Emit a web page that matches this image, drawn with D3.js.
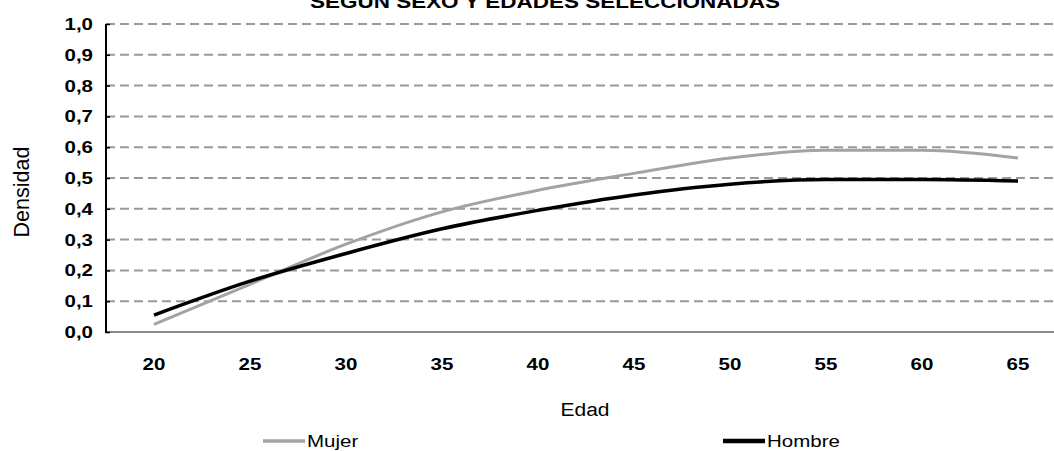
<!DOCTYPE html>
<html>
<head>
<meta charset="utf-8">
<script src="https://cdn.jsdelivr.net/npm/d3@7"></script>
<style>
  html, body { margin: 0; padding: 0; background: #fff; }
  svg { display: block; font-family: "Liberation Sans", Arial, sans-serif; }
</style>
</head>
<body>
<svg id="chart" width="1054" height="451"></svg>
<script>
// Densidad por edad, según sexo
const ages = [20, 25, 30, 35, 40, 45, 50, 55, 60, 65];
const mujer = [0.025, 0.155, 0.285, 0.39, 0.46, 0.515, 0.565, 0.59, 0.59, 0.565];
const hombre = [0.055, 0.165, 0.255, 0.335, 0.395, 0.445, 0.48, 0.495, 0.495, 0.49];
const yTicks = [0, 0.1, 0.2, 0.3, 0.4, 0.5, 0.6, 0.7, 0.8, 0.9, 1.0];
const seriesNames = ["Mujer", "Hombre"];
const seriesColors = ["#a3a3a3", "#000000"];
const titleText = "SEGÚN SEXO Y EDADES SELECCIONADAS";
const xTitle = "Edad";
const yTitle = "Densidad";

const W = 1054, H = 451;
const plot = { left: 106, right: 1066, top: 24, bottom: 332 };
const squash = 0.83; // lettering is drawn a little shorter than its width

const svg = d3.select("#chart");

const x = d3.scaleBand().domain(ages).range([plot.left, plot.right]).padding(0);
const y = d3.scaleLinear().domain([0, 1]).range([plot.bottom, plot.top]);
const cx = d => x(d) + x.bandwidth() / 2;
const fmt = v => d3.format(".1f")(v).replace(".", ",");

// helper: text placed at (tx, ty) with reduced height
function flatText(sel, tx, ty) {
  return sel.attr("transform", `translate(${tx},${ty}) scale(1,${squash})`);
}

// title (runs off the top edge)
flatText(svg.append("text"), 545, 8)
  .attr("text-anchor", "middle")
  .attr("font-weight", "bold")
  .attr("font-size", 22.5)
  .attr("fill", "#000")
  .text(titleText);

// dashed horizontal gridlines
svg.append("g")
  .selectAll("line")
  .data(yTicks.filter(t => t > 0))
  .join("line")
  .attr("x1", plot.left)
  .attr("x2", plot.right)
  .attr("y1", d => y(d))
  .attr("y2", d => y(d))
  .attr("stroke", "#999")
  .attr("stroke-width", 2)
  .attr("stroke-dasharray", "9,5");

// x baseline
svg.append("line")
  .attr("x1", plot.left).attr("x2", plot.right)
  .attr("y1", plot.bottom).attr("y2", plot.bottom)
  .attr("stroke", "#8c8c8c").attr("stroke-width", 2);

// y axis with inward ticks
const yAxis = d3.axisLeft(y).tickValues(yTicks).tickSize(-4).tickFormat("");
const yg = svg.append("g").attr("transform", `translate(${plot.left},0)`).call(yAxis);
yg.select(".domain").remove();
yg.selectAll(".tick line").attr("stroke", "#000").attr("stroke-width", 1.5);
svg.append("line")
  .attr("x1", plot.left).attr("x2", plot.left)
  .attr("y1", plot.top).attr("y2", plot.bottom + 1)
  .attr("stroke", "#000").attr("stroke-width", 2);

// y tick labels
svg.append("g")
  .selectAll("text")
  .data(yTicks)
  .join("text")
  .each(function (d) { flatText(d3.select(this), 93, y(d) + 6); })
  .attr("text-anchor", "end")
  .attr("font-weight", "bold")
  .attr("font-size", 20.5)
  .text(d => fmt(d));

// x tick labels
svg.append("g")
  .selectAll("text")
  .data(ages)
  .join("text")
  .each(function (d) { flatText(d3.select(this), cx(d), 370); })
  .attr("text-anchor", "middle")
  .attr("font-weight", "bold")
  .attr("font-size", 20.5)
  .text(d => d);

// axis titles
flatText(svg.append("text"), (plot.left + plot.right) / 2 - 1, 416)
  .attr("text-anchor", "middle")
  .attr("font-size", 21)
  .text(xTitle);

svg.append("text")
  .attr("transform", `translate(29,192) rotate(-90)`)
  .attr("text-anchor", "middle")
  .attr("font-size", 21.5)
  .text(yTitle);

// smoothed series lines
const line = d3.line()
  .x((d, i) => cx(ages[i]))
  .y(d => y(d))
  .curve(d3.curveMonotoneX);

[mujer, hombre].forEach((vals, i) => {
  svg.append("path")
    .datum(vals)
    .attr("d", line)
    .attr("fill", "none")
    .attr("stroke", seriesColors[i])
    .attr("stroke-width", i === 0 ? 3 : 3.5)
    .attr("stroke-linejoin", "round");
});

// legend
const legendX = [263, 723];
seriesNames.forEach((name, i) => {
  const g = svg.append("g");
  g.append("line")
    .attr("x1", legendX[i]).attr("x2", legendX[i] + 42)
    .attr("y1", 441).attr("y2", 441)
    .attr("stroke", seriesColors[i])
    .attr("stroke-width", i === 0 ? 3.5 : 4.5);
  flatText(g.append("text"), legendX[i] + 44, 446.5)
    .attr("font-size", 20.5)
    .text(name);
});
</script>
</body>
</html>
